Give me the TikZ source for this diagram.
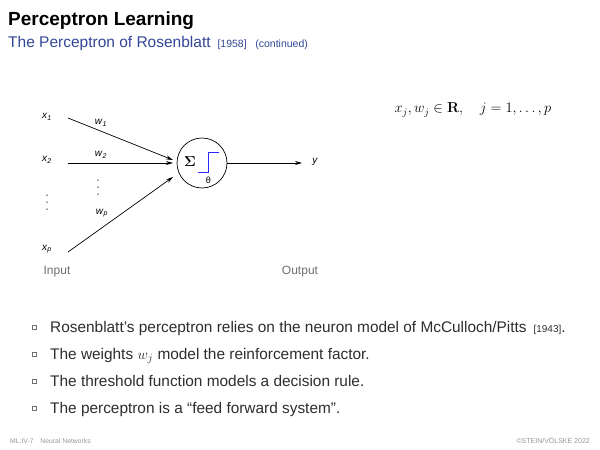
\documentclass[tikz,border=0pt]{standalone}
\usepackage[no-math]{fontspec}
\setmainfont{Liberation Sans}
\usepackage{amsmath}
\usetikzlibrary{arrows.meta}
\definecolor{subblue}{RGB}{50,70,150}
\definecolor{txt}{RGB}{45,45,45}
\definecolor{lgray}{RGB}{110,110,110}
\definecolor{fgray}{RGB}{150,150,150}
\definecolor{stepblue}{RGB}{40,40,255}
\definecolor{dotgray}{RGB}{40,40,40}
\newcommand{\sv}[2]{\textit{#1}$_{\textit{#2}}$}
\begin{document}
\begin{tikzpicture}[x=1pt,y=-1pt,
  lbl/.style={inner sep=0pt,font=\fontsize{10}{12}\selectfont},
  conn/.style={line width=0.7pt,-{Stealth[length=7pt,width=4pt]}},
  bul/.style={draw=lgray,line width=0.5pt,inner sep=0pt,minimum size=4.5pt},
  btxt/.style={anchor=base west,inner sep=0pt,text=txt,font=\fontsize{15.4}{18}\selectfont},
  io/.style={inner sep=0pt,text=lgray,font=\fontsize{12}{14}\selectfont},
  vdot/.style={fill=dotgray,circle,inner sep=0pt,minimum size=1.5pt}]
\useasboundingbox (0,0) rectangle (600,450);
% header
\node[anchor=base west,inner sep=0pt,font=\bfseries\fontsize{19}{22}\selectfont] (title) at (8,25) {Perceptron Learning};
\node[anchor=base west,inner sep=0pt,text=subblue,font=\fontsize{15.5}{18}\selectfont] (sub) at (8,47) {The Perceptron of Rosenblatt \,{\fontsize{10.5}{12}\selectfont[1958]}\; {\fontsize{10.5}{12}\selectfont(continued)}};
% diagram
\node[lbl] (x1) at (47,117) {\sv{x}{1}};
\node[lbl] (x2) at (47,160) {\sv{x}{2}};
\node[vdot] (xd1) at (47,195) {};
\node[vdot] (xd2) at (47,202) {};
\node[vdot] (xd3) at (47,209) {};
\node[lbl] (xp) at (47,249) {\sv{x}{p}};
\coordinate (s1) at (68,118);
\coordinate (s2) at (68,163);
\coordinate (sp) at (68,252);
\coordinate (e1) at (173,160);
\coordinate (e2) at (173,163);
\coordinate (ep) at (173,177);
\draw[conn] (s1) -- (e1);
\draw[conn] (s2) -- (e2);
\draw[conn] (sp) -- (ep);
\node[lbl] (w1) at (101,123) {\sv{w}{1}};
\node[lbl] (w2) at (101,155) {\sv{w}{2}};
\node[vdot] (wd1) at (98,180) {};
\node[vdot] (wd2) at (98,187) {};
\node[vdot] (wd3) at (98,194) {};
\node[lbl] (wp) at (102,213) {\sv{w}{p}};
\node[draw,circle,line width=0.7pt,minimum size=50pt,inner sep=0pt] (neuron) at (202,163) {};
\node[inner sep=0pt,font=\fontsize{14}{16}\selectfont] (sigma) at (190,162) {$\boldsymbol{\Sigma}$};
\draw[stepblue,line width=0.9pt] (198,172.5) -- (208.5,172.5) -- (208.5,152) -- (219,152);
\node[inner sep=0pt,font=\fontsize{9}{10}\selectfont] (theta) at (208.5,180) {θ};
\coordinate (yend) at (302,163);
\draw[conn] (neuron) -- (yend);
\node[lbl] (y) at (315,162) {\textit{y}};
\node[io] (input) at (57,272) {Input};
\node[io] (output) at (300,272) {Output};
% formula
\node[inner sep=0pt,font=\fontsize{14.5}{17}\selectfont] (formula) at (473,110) {$x_j, w_j\in\mathbf{R},\quad j=1,\ldots,p$};
% bullets
\node[bul] (b1) at (34,327) {};
\node[btxt] (t1) at (50,332) {Rosenblatt's perceptron relies on the neuron model of McCulloch/Pitts \,{\fontsize{10}{12}\selectfont[1943]}.};
\node[bul] (b2) at (34,354) {};
\node[btxt] (t2) at (50,359) {The weights $w_j$ model the reinforcement factor.};
\node[bul] (b3) at (34,381) {};
\node[btxt] (t3) at (50,386) {The threshold function models a decision rule.};
\node[bul] (b4) at (34,408) {};
\node[btxt] (t4) at (50,413) {The perceptron is a ``feed forward system''.};
% footer
\node[anchor=base west,inner sep=0pt,text=fgray,font=\fontsize{6.8}{8}\selectfont] (fl) at (10,443) {ML:IV-7\quad Neural Networks};
\node[anchor=base east,inner sep=0pt,text=fgray,font=\fontsize{7}{8}\selectfont] (fr) at (590,443) {\textcopyright STEIN/VÖLSKE 2022};
\end{tikzpicture}
\end{document}
